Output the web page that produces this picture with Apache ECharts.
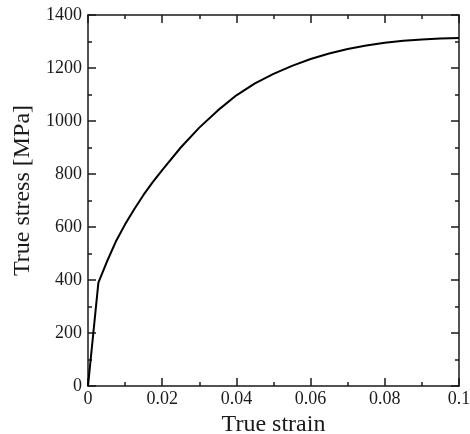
<!DOCTYPE html>
<html>
<head>
<meta charset="utf-8">
<script src="https://cdn.jsdelivr.net/npm/echarts@6/dist/echarts.min.js"></script>
<style>
  html, body { margin: 0; padding: 0; background: #fff; }
  #chart { width: 470px; height: 434px; }
</style>
</head>
<body>
<div id="chart"></div>
<script>
// values
var strain = [0, 0.0028, 0.005, 0.0075, 0.01, 0.0125, 0.015, 0.0175, 0.02, 0.025, 0.03, 0.035,
  0.04, 0.045, 0.05, 0.055, 0.06, 0.065, 0.07, 0.075, 0.08, 0.085, 0.09, 0.095, 0.1];
var stress = [0, 390, 466, 545, 610, 668, 722, 770, 815, 900, 975, 1040,
  1097, 1142, 1178, 1208, 1234, 1255, 1272, 1285, 1295, 1303, 1308, 1311, 1313];

var FONT = '"Liberation Serif", "Times New Roman", serif';
var INK = '#1a1a1a';

var points = strain.map(function (s, i) { return [s, stress[i]]; });

function frameAxis(extra) {
  var base = {
    type: 'value',
    axisLine: { show: true, onZero: false, lineStyle: { color: INK, width: 1.5 } },
    axisTick: { show: true, inside: true, length: 8, lineStyle: { color: INK, width: 1.5 } },
    minorTick: { show: true, splitNumber: 2, length: 4, lineStyle: { color: INK, width: 1.5 } },
    splitLine: { show: false },
    axisLabel: { show: false }
  };
  return Object.assign(base, extra);
}

var chart = echarts.init(document.getElementById('chart'));
chart.setOption({
  animation: false,
  backgroundColor: '#fff',
  grid: { left: 88, right: 11, top: 15, bottom: 48, outerBoundsMode: 'none', containLabel: false },
  xAxis: [
    frameAxis({
      min: 0, max: 0.1, interval: 0.02, position: 'bottom',
      name: 'True strain', nameLocation: 'middle', nameGap: 24,
      nameTextStyle: { fontFamily: FONT, fontSize: 24, color: INK },
      axisLabel: {
        show: true, margin: 4, fontFamily: FONT, fontSize: 18, color: INK,
        formatter: function (v) { return String(+v.toFixed(2)); }
      }
    }),
    frameAxis({ min: 0, max: 0.1, interval: 0.02, position: 'top' })
  ],
  yAxis: [
    frameAxis({
      min: 0, max: 1400, interval: 200, position: 'left',
      name: 'True stress [MPa]', nameLocation: 'middle', nameGap: 43,
      nameTextStyle: { fontFamily: FONT, fontSize: 24, color: INK, padding: [0, 0, 0, 20] },
      axisLabel: {
        show: true, margin: 6, fontFamily: FONT, fontSize: 18, color: INK,
        formatter: function (v) { return String(v); }
      }
    }),
    frameAxis({ min: 0, max: 1400, interval: 200, position: 'right' })
  ],
  series: [{
    type: 'line',
    data: points,
    showSymbol: false,
    smooth: false,
    lineStyle: { color: '#000', width: 2 }
  }]
});
</script>
</body>
</html>
